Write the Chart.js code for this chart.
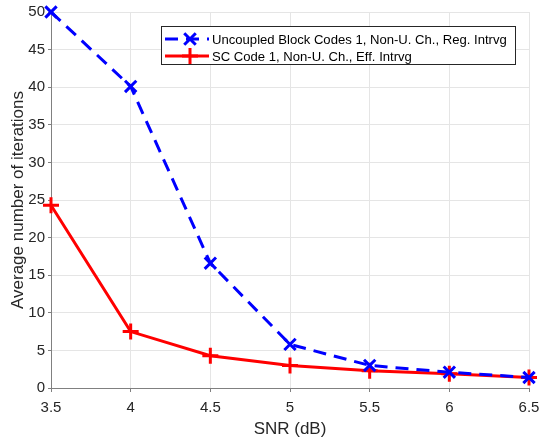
<!DOCTYPE html>
<html><head><meta charset="utf-8">
<script src="https://cdn.jsdelivr.net/npm/chart.js@4/dist/chart.umd.min.js"></script>
<style>html,body{margin:0;padding:0;background:#fff}#wrap{width:540px;height:441px}</style>
</head><body><div id="wrap"><canvas id="c" width="540" height="441"></canvas></div>
<script>
const snr = [3.5, 4, 4.5, 5, 5.5, 6, 6.5];
const uncoupled = [50, 40.1, 16.6, 5.8, 3.0, 2.1, 1.4];
const scCode = [24.3, 7.5, 4.3, 3.0, 2.3, 1.9, 1.4];
const seriesNames = ['Uncoupled Block Codes 1, Non-U. Ch., Reg. Intrvg', 'SC Code 1, Non-U. Ch., Eff. Intrvg'];
const xTitle = 'SNR (dB)';
const yTitle = 'Average number of iterations';
const FONT = 'Liberation Sans, Arial, sans-serif';

const legendPlugin = {
  id: 'boxLegend',
  afterDraw(chart) {
    const ctx = chart.ctx;
    const x0 = 161, y0 = 26, w = 354, h = 38;
    ctx.save();
    ctx.fillStyle = '#fff';
    ctx.fillRect(x0, y0, w, h);
    ctx.strokeStyle = '#262626';
    ctx.lineWidth = 1;
    ctx.strokeRect(x0 + 0.5, y0 + 0.5, w, h);
    chart.data.datasets.forEach((ds, i) => {
      const cy = y0 + 13 + i * 17;
      ctx.strokeStyle = ds.borderColor;
      ctx.lineWidth = 3;
      ctx.setLineDash(ds.borderDash || []);
      ctx.beginPath(); ctx.moveTo(x0 + 4, cy); ctx.lineTo(x0 + 48, cy); ctx.stroke();
      ctx.setLineDash([]);
      const mx = x0 + 29, r = 8;
      ctx.beginPath();
      if (ds.pointStyle === 'crossRot') {
        const d = r * 0.72;
        ctx.moveTo(mx - d, cy - d); ctx.lineTo(mx + d, cy + d);
        ctx.moveTo(mx + d, cy - d); ctx.lineTo(mx - d, cy + d);
      } else {
        ctx.moveTo(mx - r, cy); ctx.lineTo(mx + r, cy);
        ctx.moveTo(mx, cy - r); ctx.lineTo(mx, cy + r);
      }
      ctx.stroke();
      ctx.fillStyle = '#000';
      ctx.font = '13.1px ' + FONT;
      ctx.textBaseline = 'middle';
      ctx.fillText(ds.label, x0 + 51, cy + 1);
    });
    ctx.restore();
  }
};

new Chart(document.getElementById('c'), {
  type: 'line',
  data: {
    datasets: [
      { label: seriesNames[0], data: snr.map((x, i) => ({x, y: uncoupled[i]})),
        borderColor: '#0000ff', backgroundColor: '#0000ff', borderWidth: 3, borderDash: [13, 8],
        pointStyle: 'crossRot', pointRadius: 8, pointBorderWidth: 3, pointBorderColor: '#0000ff',
        tension: 0, fill: false, clip: false },
      { label: seriesNames[1], data: snr.map((x, i) => ({x, y: scCode[i]})),
        borderColor: '#ff0000', backgroundColor: '#ff0000', borderWidth: 3,
        pointStyle: 'cross', pointRadius: 8, pointBorderWidth: 3, pointBorderColor: '#ff0000',
        tension: 0, fill: false, clip: false }
    ]
  },
  options: {
    responsive: false, animation: false, devicePixelRatio: 1,
    layout: { padding: { top: 12, right: 10, left: 6, bottom: 0 } },
    plugins: { legend: { display: false }, tooltip: { enabled: false } },
    scales: {
      x: { type: 'linear', min: 3.5, max: 6.5,
        ticks: { stepSize: 0.5, color: '#262626', font: { family: FONT, size: 15 }, padding: 7, maxRotation: 0,
          callback: v => String(v) },
        grid: { color: '#e5e5e5', tickLength: 4, tickColor: '#808080' },
        border: { color: '#808080', width: 1 },
        title: { display: true, text: xTitle, color: '#262626', font: { family: FONT, size: 17 }, padding: { top: 0, bottom: 1 } },
        afterFit(s) { s.height = 53; s.paddingLeft = 0; s.paddingRight = 0; } },
      y: { min: 0, max: 50,
        ticks: { stepSize: 5, color: '#262626', font: { family: FONT, size: 15 }, padding: 3 },
        grid: { color: '#e5e5e5', tickLength: 3, tickColor: '#808080' },
        border: { color: '#808080', width: 1 },
        title: { display: true, text: yTitle, color: '#262626', font: { family: FONT, size: 17 }, padding: { top: 2, bottom: 0 } },
        afterFit(s) { s.width = 45; s.paddingTop = 0; s.paddingBottom = 0; } }
    }
  },
  plugins: [legendPlugin]
});
</script></body></html>
